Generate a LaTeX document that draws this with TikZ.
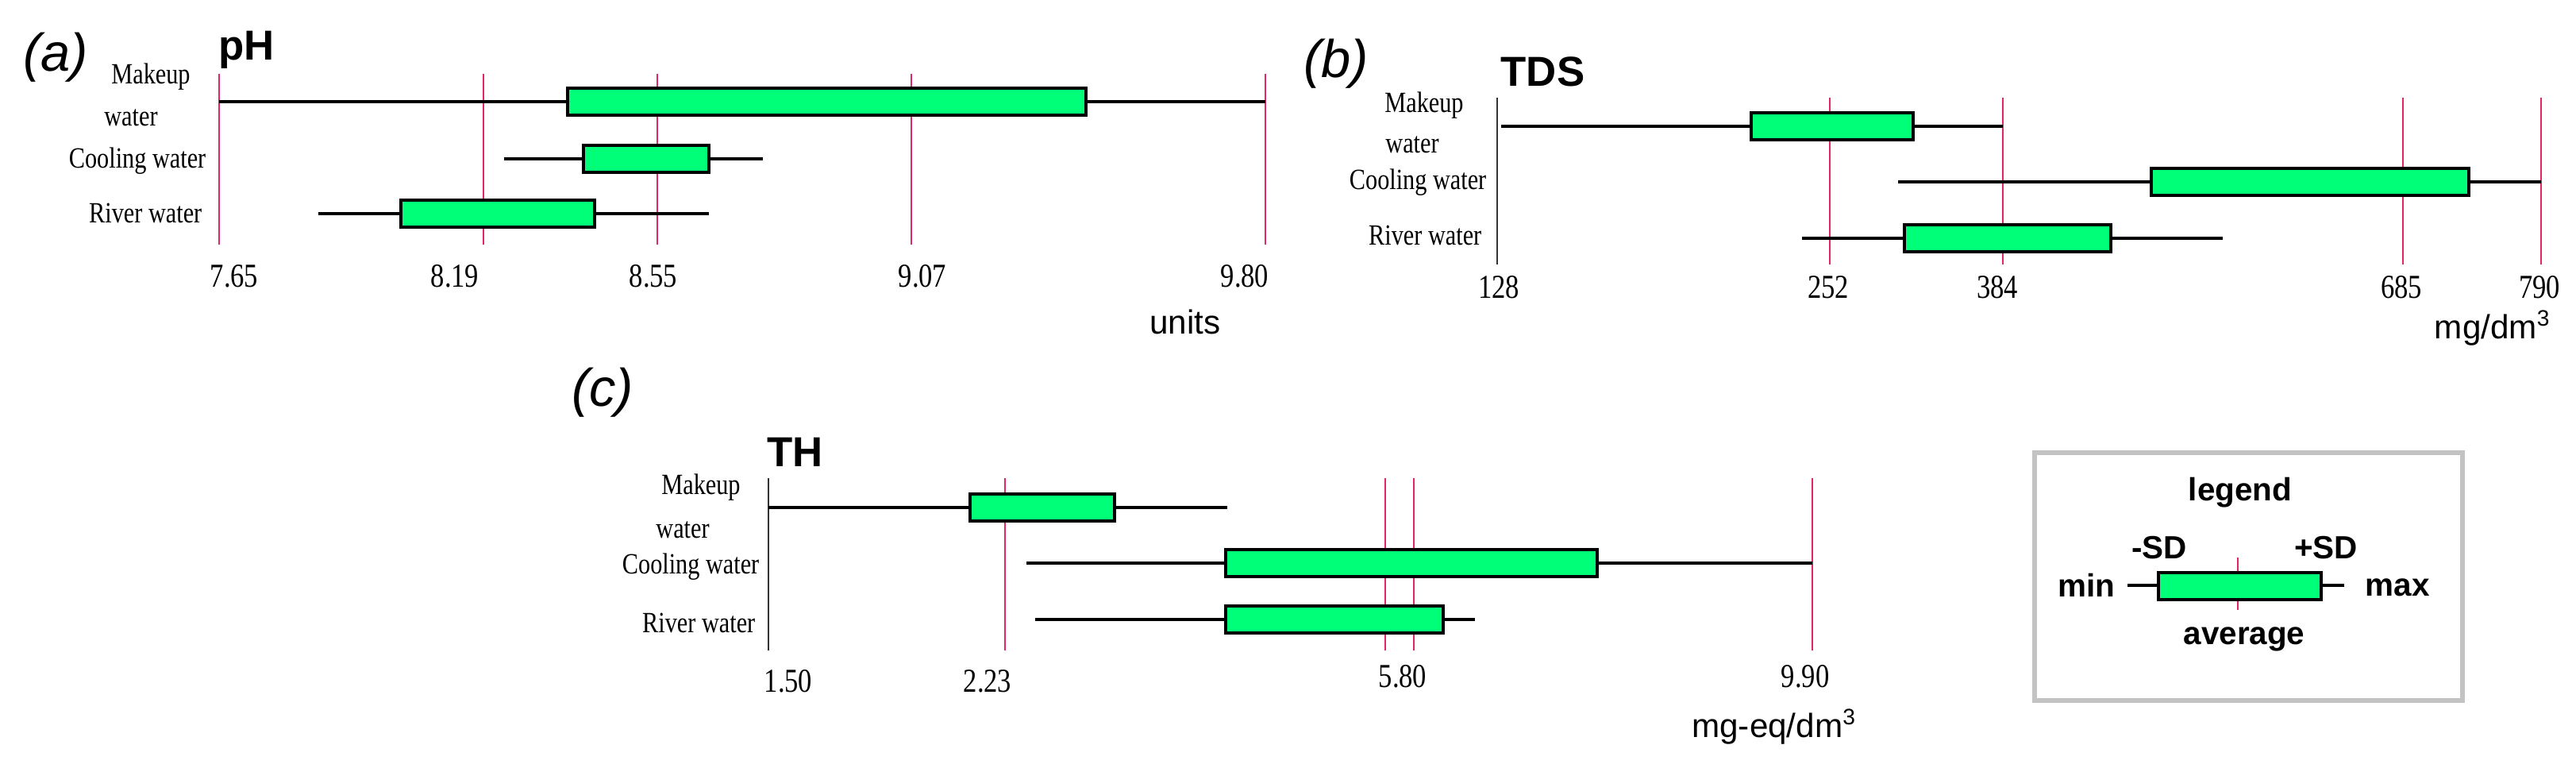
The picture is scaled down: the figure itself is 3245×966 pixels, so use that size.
\documentclass[tikz,border=0pt]{standalone}
\usepackage{fontspec}
\setmainfont{Liberation Serif}
\newfontfamily\cond{Liberation Serif}[FakeStretch=0.82]
\newfontfamily\sans{Liberation Sans}
\definecolor{bgreen}{RGB}{0,255,120}
\definecolor{gline}{RGB}{225,40,100}
\definecolor{lgray}{RGB}{195,195,195}
\tikzset{
  whisk/.style={line width=1.3pt,black},
  bx/.style={line width=1.2pt,draw=black,fill=bgreen},
  ref/.style={line width=0.45pt,gline},
  ax/.style={line width=0.45pt,black!80},
  lab/.style={font=\cond\fontsize{10.5}{12}\selectfont,inner sep=0pt},
  tick/.style={font=\cond\fontsize{12}{14}\selectfont,inner sep=0pt},
  ttl/.style={font=\sans\bfseries\fontsize{15}{17}\selectfont,inner sep=0pt,anchor=west},
  pan/.style={font=\sans\itshape\fontsize{19}{21}\selectfont,inner sep=0pt},
  unit/.style={font=\sans\fontsize{12}{14}\selectfont,inner sep=0pt},
  leg/.style={font=\sans\bfseries\fontsize{11.5}{13}\selectfont,inner sep=0pt},
}
\newcommand\boxrow[6]{%
  \coordinate (#1min) at (#3,#2);
  \coordinate (#1max) at (#6,#2);
  \draw[whisk] (#1min) -- (#1max);
  \draw[bx] (#4,#2-17) rectangle (#5,#2+17);}
\begin{document}
\begin{tikzpicture}[x=0.01cm,y=-0.01cm]
\useasboundingbox (0,0) rectangle (3245,966);
% ---------- (a) pH
\foreach \x/\n in {609/b,828/c,1148/d,1594/e}{\draw[ref] (\x,93) -- (\x,308);}
\draw[ref] (276,93) -- (276,308);
\boxrow{am}{128}{276}{715}{1368}{1594}
\boxrow{ac}{200}{635}{735}{893}{961}
\boxrow{ar}{269}{401}{505}{749}{893}
\node[pan] (pa) at (70,72) {(a)};
\node[ttl] (tpH) at (275,63) {pH};
\node[lab] (am1) at (190,97) {Makeup};
\node[lab] (am2) at (165,148) {water};
\node[lab,anchor=east] (ac1) at (260,203) {Cooling water};
\node[lab,anchor=east] (ar1) at (255,268) {River water};
\foreach \x/\t in {295/7.65,573/8.19,823/8.55,1162/9.07,1568/9.80}{\node[tick] at (\x,348) {\t};}
\node[unit] (ua) at (1493,405) {units};
% ---------- (b) TDS
\draw[ax] (1886,123) -- (1886,333);
\foreach \x in {2305,2523,3027,3201}{\draw[ref] (\x,123) -- (\x,333);}
\boxrow{bm}{159}{1891}{2206}{2410}{2523}
\boxrow{bc}{229}{2391}{2710}{3110}{3201}
\boxrow{br}{300}{2270}{2399}{2659}{2800}
\node[pan] (pb) at (1683,80) {(b)};
\node[ttl] (tTDS) at (1890,90) {TDS};
\node[lab] (bm1) at (1794,133) {Makeup};
\node[lab] (bm2) at (1779,182) {water};
\node[lab,anchor=east] (bc1) at (1873,230) {Cooling water};
\node[lab,anchor=east] (br1) at (1867,296) {River water};
\foreach \x/\t in {1888/128,2303/252,2516/384,3025/685,3199/790}{\node[tick] at (\x,362) {\t};}
\node[unit] (ub) at (3140,413) {mg/dm\textsuperscript{3}};
% ---------- (c) TH
\draw[ax] (968,602) -- (968,819);
\foreach \x in {1266,1745,1781,2283}{\draw[ref] (\x,602) -- (\x,819);}
\boxrow{cm}{639}{968}{1222}{1404}{1546}
\boxrow{cc}{709}{1293}{1544}{2012}{2283}
\boxrow{cr}{780}{1304}{1544}{1818}{1858}
\node[pan] (pc) at (759,494) {(c)};
\node[ttl] (tTH) at (966,569) {TH};
\node[lab] (cm1) at (883,614) {Makeup};
\node[lab] (cm2) at (860,667) {water};
\node[lab,anchor=east] (cc1) at (957,714) {Cooling water};
\node[lab,anchor=east] (cr1) at (952,784) {River water};
\foreach \x/\t/\y in {993/1.50/858,1244/2.23/858,1767/5.80/852,2274/9.90/852}{\node[tick] at (\x,\y) {\t};}
\node[unit] (uc) at (2235,915) {mg-eq/dm\textsuperscript{3}};
% ---------- legend
\draw[lgray,line width=1.7pt] (2563,570) rectangle (3102,882);
\node[leg] (lt) at (2822,620) {legend};
\coordinate (lmin) at (2680,737);
\coordinate (lmax) at (2953,737);
\draw[line width=1pt] (lmin) -- (lmax);
\draw[ref] (2819,702) -- (2819,768);
\draw[bx,line width=1.1pt] (2719,721) rectangle (2924,755);
\node[leg] (lminl) at (2628,737) {min};
\node[leg] (lmaxl) at (3020,740) {max};
\node[leg] (lsdm) at (2720,690) {-SD};
\node[leg] (lsdp) at (2930,690) {+SD};
\node[leg] (lavg) at (2827,805) {average};
\end{tikzpicture}
\end{document}
